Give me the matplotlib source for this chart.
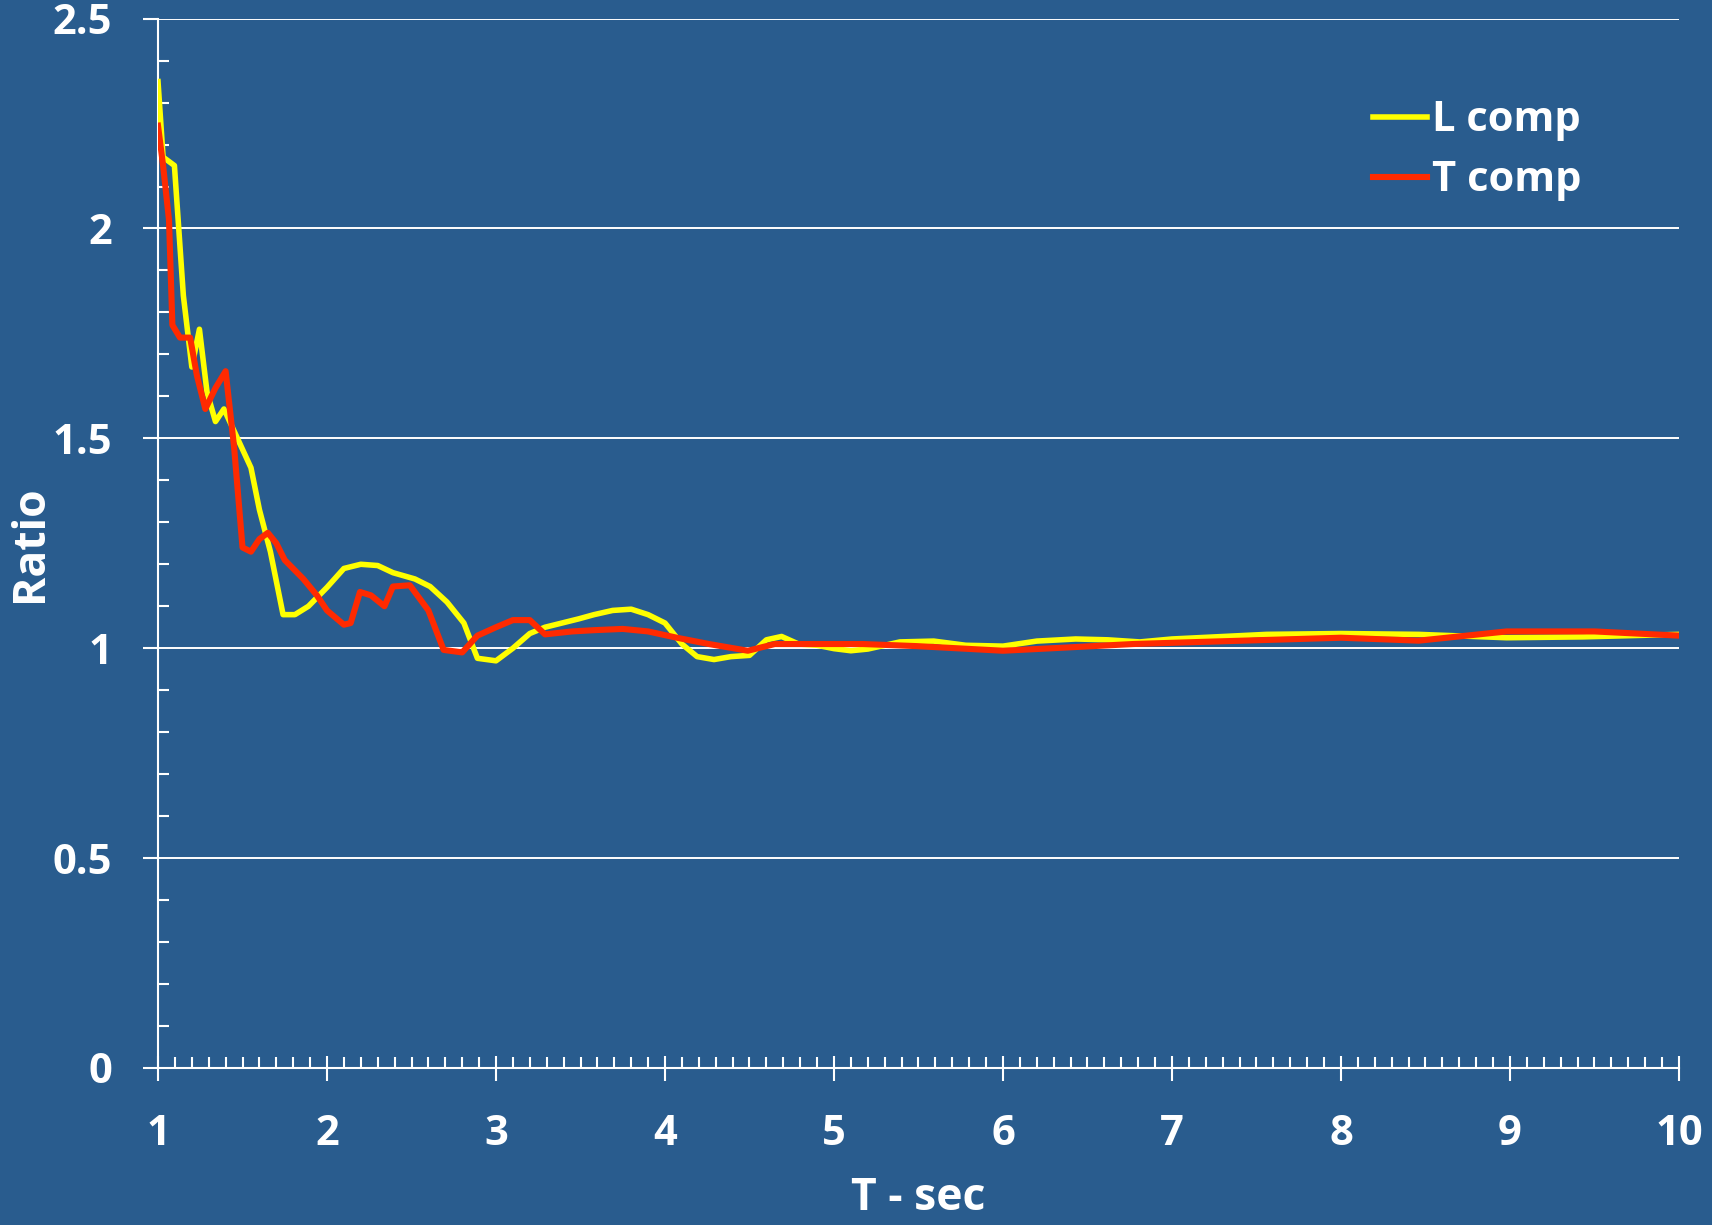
import matplotlib
matplotlib.use('Agg')
import matplotlib.pyplot as plt
from matplotlib.ticker import MultipleLocator

plt.rcParams['font.family'] = ['Open Sans', 'DejaVu Sans']
plt.rcParams['font.weight'] = 'bold'

# L component ratio vs period
t_L = [1.0, 1.03, 1.097, 1.15, 1.2, 1.245, 1.29, 1.34, 1.39, 1.47, 1.55, 1.60, 1.665,
       1.74, 1.81, 1.89, 2.0, 2.10, 2.2, 2.3, 2.39, 2.52, 2.61, 2.71, 2.81, 2.89, 3.0,
       3.1, 3.2, 3.29, 3.39, 3.49, 3.58, 3.69, 3.80, 3.9, 4.0, 4.1, 4.19, 4.29, 4.39,
       4.5, 4.6, 4.69, 4.79, 4.9, 5.0, 5.1, 5.2, 5.39, 5.59, 5.78, 6.0, 6.2, 6.43, 6.62,
       6.81, 7.0, 7.56, 8.0, 8.46, 8.98, 9.43, 10.0]
ratio_L = [2.35, 2.17, 2.15, 1.84, 1.67, 1.76, 1.61, 1.54, 1.57, 1.50, 1.43, 1.33, 1.23,
           1.08, 1.08, 1.10, 1.145, 1.19, 1.20, 1.197, 1.18, 1.165, 1.147, 1.11, 1.06,
           0.976, 0.97, 1.00, 1.035, 1.05, 1.06, 1.07, 1.08, 1.09, 1.093, 1.08, 1.06,
           1.01, 0.98, 0.973, 0.98, 0.983, 1.02, 1.028, 1.01, 1.007, 0.999, 0.994, 0.998,
           1.015, 1.017, 1.007, 1.005, 1.017, 1.022, 1.02, 1.015, 1.022, 1.033, 1.035,
           1.033, 1.025, 1.027, 1.033]

# T component ratio vs period
t_T = [1.0, 1.03, 1.065, 1.085, 1.13, 1.19, 1.23, 1.28, 1.34, 1.40, 1.45, 1.5, 1.55,
       1.60, 1.65, 1.70, 1.75, 1.86, 1.94, 2.0, 2.10, 2.14, 2.195, 2.26, 2.34, 2.39,
       2.49, 2.60, 2.69, 2.80, 2.89, 3.0, 3.1, 3.2, 3.29, 3.45, 3.58, 3.75, 3.9, 4.07,
       4.26, 4.49, 4.65, 4.84, 5.17, 5.49, 6.0, 6.39, 6.77, 7.17, 8.0, 8.46, 8.98, 9.5,
       10.0]
ratio_T = [2.245, 2.15, 2.02, 1.77, 1.74, 1.74, 1.65, 1.57, 1.62, 1.66, 1.48, 1.24, 1.23,
           1.26, 1.275, 1.25, 1.21, 1.165, 1.126, 1.09, 1.056, 1.06, 1.134, 1.126, 1.10,
           1.147, 1.15, 1.09, 0.996, 0.99, 1.03, 1.05, 1.067, 1.067, 1.033, 1.04, 1.043,
           1.046, 1.04, 1.025, 1.01, 0.994, 1.01, 1.01, 1.01, 1.005, 0.994, 1.002, 1.01,
           1.015, 1.025, 1.018, 1.04, 1.04, 1.03]

bg = '#295C8E'
fig = plt.figure(figsize=(17.12, 12.25), dpi=100, facecolor=bg)
ax = fig.add_axes([0.0923, 0.1282, 0.8884, 0.8566], facecolor=bg)

ax.plot(t_L, ratio_L, color='#FFFF00', lw=4.0, label='L comp', zorder=3)
ax.plot(t_T, ratio_T, color='#FF2A00', lw=4.4, label='T comp', zorder=4)

ax.set_xlim(1, 10)
ax.set_ylim(0, 2.5)
ax.xaxis.set_major_locator(MultipleLocator(1))
ax.xaxis.set_minor_locator(MultipleLocator(0.1))
ax.yaxis.set_major_locator(MultipleLocator(0.5))
ax.yaxis.set_minor_locator(MultipleLocator(0.1))
ax.yaxis.set_major_formatter(plt.FuncFormatter(lambda v, p: '%g' % v))

ax.yaxis.grid(True, which='major', color='white', lw=1.4)
ax.set_axisbelow(True)

for s in ['top', 'right']:
    ax.spines[s].set_visible(False)
for s in ['left', 'bottom']:
    ax.spines[s].set_color('white')
    ax.spines[s].set_linewidth(1.5)

ax.tick_params(axis='x', which='major', direction='inout', length=18, width=1.5,
               color='white', labelcolor='white', labelsize=30, pad=24)
ax.tick_params(axis='x', which='minor', direction='in', length=8, width=1.5, color='white')
ax.tick_params(axis='y', which='major', direction='out', length=11, width=1.5,
               color='white', labelcolor='white', labelsize=30, pad=22)
ax.tick_params(axis='y', which='minor', direction='in', length=8, width=1.5, color='white')

ax.set_xlabel('T - sec', color='white', fontsize=32, fontweight='bold', labelpad=15)
ax.set_ylabel('Ratio', color='white', fontsize=32, fontweight='bold')
ax.yaxis.set_label_coords(-0.069, 0.5)

leg = ax.legend(loc='upper left', bbox_to_anchor=(0.799, 0.922), frameon=False,
                fontsize=30, handlelength=1.3, handletextpad=0.1, labelspacing=0.45,
                borderpad=0, borderaxespad=0)
for txt in leg.get_texts():
    txt.set_color('white')
    txt.set_fontweight('bold')

fig.savefig('out.png', dpi=100, facecolor=bg)
